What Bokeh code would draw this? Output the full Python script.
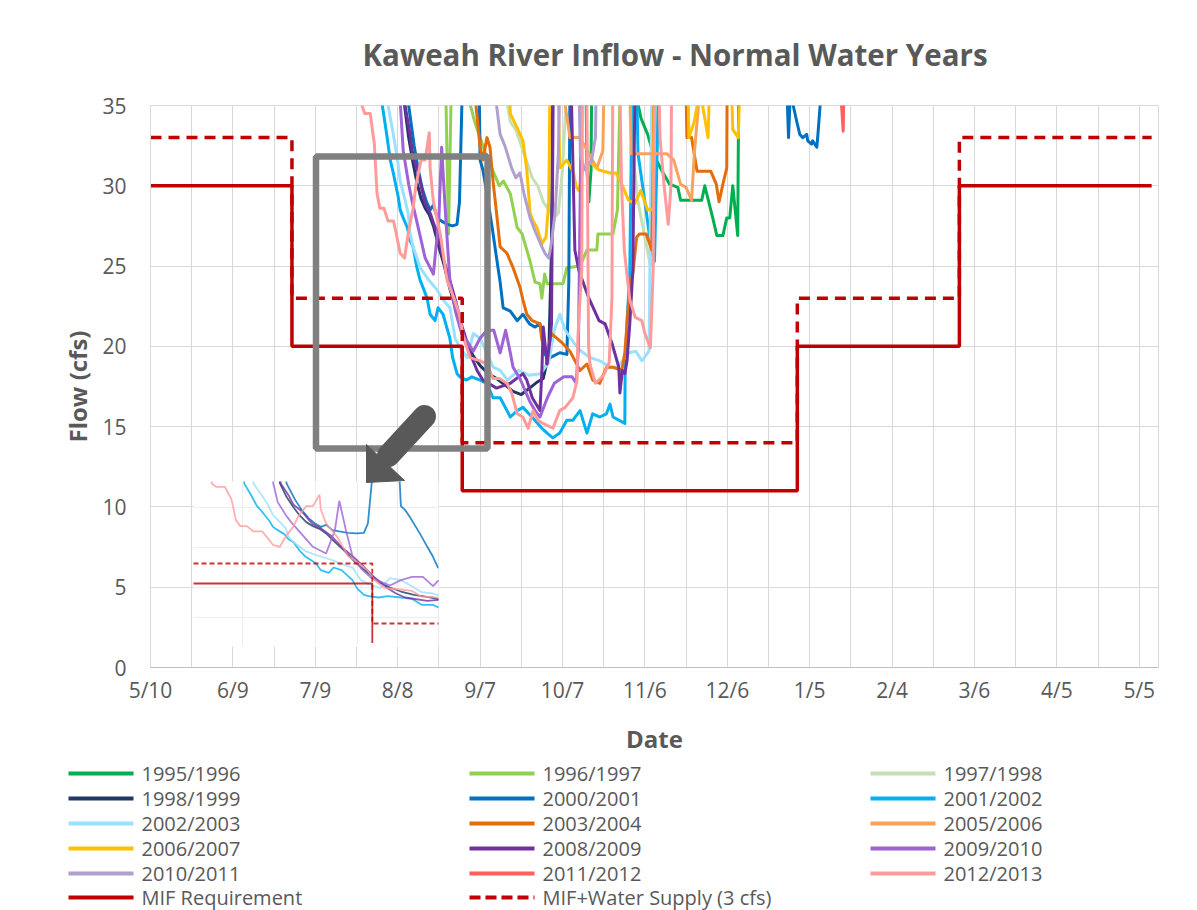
import numpy as np
from bokeh.plotting import figure
from bokeh.models import FixedTicker, Range1d
from bokeh.layouts import column
from bokeh.core.properties import value
from bokeh.embed import file_html
from bokeh.resources import INLINE

# ---------------- data ----------------
tick_days = [0, 30, 60, 90, 120, 150, 180, 210, 240, 270, 300, 330, 360]
tick_labels = ["5/10", "6/9", "7/9", "8/8", "9/7", "10/7", "11/6", "12/6",
               "1/5", "2/4", "3/6", "4/5", "5/5"]
y_ticks = [0, 5, 10, 15, 20, 25, 30, 35]

series_names = ["1995/1996", "1996/1997", "1997/1998", "1998/1999", "2000/2001",
                "2001/2002", "2002/2003", "2003/2004", "2005/2006", "2006/2007",
                "2008/2009", "2009/2010", "2010/2011", "2011/2012", "2012/2013"]
series_colors = ["#00B050", "#92D050", "#C5E0B4", "#203864", "#0070C0",
                 "#00B0F0", "#9BE0FF", "#E46C0A", "#F7A35C", "#FFC000",
                 "#7030A0", "#9E63D4", "#B1A0CF", "#FF5F5F", "#FF9B9B"]
# series that are visible in the enlarged inset picture
inset_names = ["1998/1999", "2000/2001", "2001/2002", "2002/2003", "2008/2009",
               "2009/2010", "2012/2013"]

# days counted from 5/10, flow in cfs (values of 45 are off the top of the chart)
d_1995 = [150, 158, 158.9, 159.6, 160.4, 161, 176, 177.6, 178.6, 181, 183, 186, 189, 192, 193,
          200.7, 201.8, 204.7, 206.2, 208.4, 209.8, 210.9, 212, 213.8, 214.5]
f_1995 = [45, 45, 31, 29, 31, 45, 45, 35, 34.2, 33.2, 32, 31, 30.1, 29.9, 29.1,
          29.1, 30, 28, 26.9, 26.9, 28, 28, 30, 26.9, 45]

d_1996 = [100, 107.5, 108.5, 109.5, 111, 115, 118, 122, 127, 128.5, 131, 133.5, 135.3, 138.2, 140,
          141.8, 142.5, 143.5, 144.4, 146.5, 150.2, 151.6, 156.4, 158.9, 162.5, 162.9, 168.4, 170,
          171, 173]
f_1996 = [45, 36, 27, 36, 45, 36, 34, 32, 30, 30.3, 29.5, 27.4, 27, 25.3, 24,
          23.9, 23, 24.5, 23.9, 23.9, 23.9, 24.9, 25, 26, 26, 27, 27, 28.5,
          36, 45]

d_1997 = [125, 129, 131, 133, 135, 137, 139, 141, 143, 145, 147, 148.5, 150, 151.5, 153,
          172, 175, 177.5, 180, 182, 183.5, 185]
f_1997 = [45, 36, 34, 33.5, 32.5, 31.5, 30.5, 30, 29, 28.5, 28, 28.3, 31, 36, 45,
          45, 33, 29, 26.8, 25, 30, 45]

d_1998 = [91, 92.5, 94, 95.5, 97, 98.5, 100, 101.5, 103, 105, 107, 109, 111, 113, 115,
          117.5, 120, 123, 126, 129, 132, 135, 138, 141, 143, 145, 146, 146.8]
f_1998 = [45, 35, 33, 31.5, 30.2, 29.2, 28.6, 28.2, 27.5, 26.2, 25, 23.6, 22.4, 21.3, 20.2,
          19.4, 18.8, 18.3, 18, 17.6, 17.2, 17, 17.4, 17.8, 18, 19.5, 26, 45]

d_2000 = [93, 94, 96, 97.5, 99, 100.5, 101.8, 103, 104.4, 106, 108, 110, 111.6, 112.5, 113.5,
          114.5, 119, 120, 121, 122, 124.4, 126, 127.3, 128.4, 131, 133.5, 135.6, 138, 140,
          141.8, 143.6, 145.5, 149, 151.6, 152.3, 153, 231, 231.9, 232.3, 233, 234, 235.3,
          236.4, 237.5, 238.9, 239.3, 240.7, 241.1, 242.6, 243, 243.8, 244.3]
f_2000 = [45, 35, 32.5, 31, 29.8, 29, 28.5, 28.8, 28, 27.8, 27.6, 27.5, 27.6, 29, 36,
          45, 45, 31.6, 31, 30, 27.4, 25.5, 24, 22.4, 22.2, 21.6, 22, 21.4, 21.2,
          21.4, 19.5, 19.3, 19.6, 19.5, 24, 45, 45, 35, 33, 36, 35, 34,
          33.2, 33, 33.2, 32.8, 32.6, 32.8, 32.4, 33.2, 35, 45]

d_2001 = [83, 84.4, 86, 87.3, 88.4, 89, 90.2, 90.9, 92, 93.5, 94.5, 95.6, 97, 98.2, 99.6,
          100.7, 101.8, 103.6, 104.7, 106.5, 109, 110, 111.6, 112.7, 115, 117, 120, 122.5,
          124.7, 127.3, 129.8, 131, 133.5, 135.6, 138.9, 142.5, 144.4, 146.5, 149, 151.6,
          153.8, 156.4, 158.9, 161, 163.6, 166, 167.3, 168.4, 172.7, 172.8, 173.5, 174,
          174.5, 176, 177.5, 180, 182, 183.5, 185, 186]
f_2001 = [45, 35, 33.2, 31.6, 30.8, 30.3, 29.3, 28.5, 28, 27.4, 26.6, 26.2, 24.9, 24.1, 23.5,
          23, 22, 21.6, 22.4, 22, 20.5, 19.3, 18.3, 18.1, 17.9, 18.1, 17.9, 17.7,
          16.8, 16.8, 16, 15.6, 16, 16.2, 15.6, 14.9, 14.6, 14.3, 14.6, 15.4,
          15.4, 16, 14.6, 15.8, 15.6, 15.8, 16.4, 15.6, 15.2, 18.5, 21.6, 23,
          24.7, 45, 32, 29, 26.5, 25.3, 36, 45]

d_2002 = [85, 86.5, 88.4, 89.8, 90.9, 92.7, 93.8, 94.5, 95.6, 97, 98.2, 101, 104.4, 106.5, 109,
          110.9, 112.7, 115.3, 117.5, 120, 122.5, 124.7, 127.3, 130, 134, 138, 142, 145, 147,
          149, 151, 153, 156, 160, 163.6, 167.3, 170, 174.2, 176.7, 178.9, 181.5, 182.5, 183.5]
f_2002 = [45, 35, 33.2, 31.8, 30.3, 29.1, 28.3, 27, 26.2, 25.5, 24.9, 24.2, 23.5, 22.9, 22.4,
          20.5, 19.9, 19.3, 20.8, 20.5, 19.6, 18.7, 18.5, 17.9, 18.5, 18.2, 18.3, 19, 21,
          22, 21, 20.5, 19.8, 19.3, 19.1, 18.7, 18.7, 19.6, 19.7, 19.1, 19.7, 36, 45]

d_2003 = [117, 118.5, 120, 121, 122.5, 123.6, 124.7, 126, 127.3, 129.8, 131, 132, 134.5, 135.6,
          137, 139, 141.8, 142.5, 144.4, 146, 148, 150, 152.7, 156.4, 158.9, 161, 163.6, 166,
          168.4, 171.6, 172.7, 174.5, 175.6, 177, 178, 180.5, 182.5, 183, 184, 194, 195.3, 197,
          199, 204, 206, 207, 208.4, 209.8, 210.2]
f_2003 = [45, 35, 32.4, 31.6, 33, 32.4, 30.3, 28.3, 26.2, 25.8, 25.3, 24.9, 23.7, 22.9,
          22, 21.6, 21.4, 20.4, 19.6, 20.8, 20.5, 20.2, 19.7, 18.5, 18.9, 17.9, 17.7, 18.7,
          18.7, 18.5, 19.6, 23.7, 24.5, 26.8, 27, 27, 26, 31, 45, 45, 33, 33,
          30.9, 30.9, 30.1, 29, 30.1, 31.1, 45]

d_2005 = [149, 151, 152.7, 154.5, 156.4, 159, 162.5, 164.7, 166, 174, 175, 178, 182, 188, 190.5,
          193, 195, 197, 198, 200, 202]
f_2005 = [45, 35, 33, 33, 33, 32.2, 31.1, 32.2, 45, 45, 32, 32, 32, 32, 31.6,
          30.1, 29.9, 29.1, 32, 36, 45]

d_2006 = [129, 131, 133.5, 135.6, 137, 138.2, 139.3, 140.7, 142.5, 144, 145, 146, 147.5, 149,
          151.6, 154, 155, 156, 157.5, 160, 163, 167.3, 169.5, 171.6, 174, 176.4, 178.5, 181,
          183, 184, 195, 196, 198, 200, 203, 205, 210, 212, 214, 216]
f_2006 = [45, 34.5, 33.6, 32.8, 31, 28.3, 27.8, 27.4, 26.4, 26.8, 29, 45, 45, 31.1,
          31.6, 30.8, 29.9, 29.7, 31.1, 31.5, 31, 30.8, 30.8, 30.1, 29.1, 28.9, 29.7, 28.5,
          28.5, 45, 45, 33, 34, 36, 33, 45, 45, 33.5, 33, 45]

d_2008 = [91.5, 92.7, 94.5, 95.6, 97.5, 98.9, 100, 101.8, 104.4, 106.5, 109, 111.3, 113.5, 115,
          117, 118.9, 121, 126, 131, 135.6, 137, 139, 141.8, 142.5, 143, 144.4, 145.5, 146, 147,
          152, 154.5, 156, 159.6, 163.3, 165.5, 168, 170.5, 170.9, 171.8, 172.7, 173.5, 174.5,
          175.6, 177]
f_2008 = [45, 35, 33.2, 31.8, 30.8, 29.7, 28.9, 28.3, 27, 25.5, 24.1, 22.7, 21.2, 20.4,
          19.3, 18.5, 17.9, 17.4, 17.7, 18.3, 17.9, 16.8, 16, 18.5, 21.2, 18.9, 20.5, 21.4, 45,
          45, 26, 24.7, 23, 21.6, 21.4, 20.2, 18.7, 17.1, 18.5, 18.3, 19.1, 21.4,
          24.7, 45]

d_2009 = [90, 91, 92, 94, 95.3, 98, 100, 103, 105, 106, 107.5, 109, 111, 113.3, 115, 117.5, 120,
          122.5, 125, 127.3, 129.3, 131, 132, 134.5, 138, 140, 141.8, 144.5, 147, 150.5, 153.5,
          155, 155.8, 156.5, 157.5]
f_2009 = [45, 35, 32.2, 30.1, 29, 27, 25.5, 24.5, 28, 32.4, 28, 24.1, 22.2, 20.8, 20.4, 19.7,
          20.5, 21, 21, 19.6, 21, 19.6, 18.7, 18, 16.6, 16, 15.6, 16.8, 17.7, 18.1, 18.1,
          17.7, 19.9, 30, 45]

d_2010 = [124, 126, 127.3, 129, 131.5, 133, 134.5, 136, 138.2, 140, 141, 142.5, 143.6, 145, 146,
          147.3, 148.5, 150, 155, 156.5, 158, 160.5, 162, 163]
f_2010 = [45, 35, 33.2, 32.5, 31.1, 30.5, 30.8, 29.5, 28, 27.2, 26.8, 26.2, 25.8, 25.5, 26.5,
          28.3, 32, 45, 45, 32, 31, 31.5, 33, 45]

d_2011 = [250.5, 251.6, 252.2, 253.3]
f_2011 = [45, 35, 33.4, 45]

d_2012 = [76, 77, 78, 80, 81.5, 82.5, 83.5, 85, 86.5, 88.5, 89.5, 90.9, 92.5, 93.8, 95.6, 96.7,
          98.5, 100, 101.5, 101.8, 103, 105.5, 108, 110.5, 112.4, 114, 116.4, 120, 122.5, 124.7,
          127, 129.8, 131.5, 133.5, 135.6, 137.5, 139.3, 141.1, 142.9, 146.5, 149, 151, 153.8,
          155.3, 155.6, 156.4, 157, 157.5, 158.5, 159.5, 160, 162, 165, 167, 168, 168.5, 170,
          171.5, 172.5, 174.5, 176.5, 178.9, 180, 182, 183, 184, 185.5, 187, 188.5, 189.5, 190]
f_2012 = [45, 35, 34.5, 34.5, 32.6, 29.5, 28.6, 28.6, 27.8, 27.8, 27, 25.8, 25.5, 27, 28.6, 30.1,
          31.6, 31.6, 33.3, 31.1, 29, 27, 24.1, 23, 22, 20.5, 19.3, 19.1, 18.9, 18,
          18, 17.7, 17.1, 15.8, 15.6, 14.9, 16, 15.4, 15.2, 14.9, 16, 16.2, 16.8,
          17.9, 20.5, 23, 24.7, 45, 45, 20, 18.9, 17.7, 18.2, 19, 23, 45, 45,
          30, 26, 22.9, 21.8, 21.6, 20.8, 19.9, 24.7, 45, 33, 30, 27.6, 30, 45]

series_days = [d_1995, d_1996, d_1997, d_1998, d_2000, d_2001, d_2002, d_2003, d_2005,
               d_2006, d_2008, d_2009, d_2010, d_2011, d_2012]
series_flow = [f_1995, f_1996, f_1997, f_1998, f_2000, f_2001, f_2002, f_2003, f_2005,
               f_2006, f_2008, f_2009, f_2010, f_2011, f_2012]

mif_days = [0, 51.5, 113.5, 235.5, 294.5, 364.5]
mif_flow = [30, 20, 11, 20, 30, 30]
mif_ws_flow = [33, 23, 14, 23, 33, 33]

legend_labels = series_names + ["MIF Requirement", "MIF+Water Supply (3 cfs)"]
legend_colors = series_colors + ["#C00000", "#C00000"]

# ---------------- geometry (page pixels) ----------------
X_MAX = 367.0
Y_MAX = 35.0
FRAME_L, FRAME_T, FRAME_W, FRAME_H = 150, 105, 1008, 562
P1_H = 760
PAGE_W, PAGE_H = 1189, 910
PX_DAY = FRAME_W / X_MAX
PX_CFS = FRAME_H / Y_MAX


def dx(px):
    return (px - FRAME_L) / PX_DAY


def dy(py):
    return (FRAME_T + FRAME_H - py) / PX_CFS


TXT = "#595959"
FONT = "Open Sans"
RED = "#C00000"

p = figure(frame_width=FRAME_W, frame_height=FRAME_H,
           min_border_left=FRAME_L, min_border_top=FRAME_T,
           min_border_right=PAGE_W - FRAME_L - FRAME_W,
           min_border_bottom=P1_H - FRAME_T - FRAME_H,
           x_range=Range1d(0, X_MAX), y_range=Range1d(0, Y_MAX),
           output_backend="svg", toolbar_location=None,
           background_fill_color="white", border_fill_color="white")

p.title.text = "Kaweah River Inflow - Normal Water Years"
p.title.align = "left"
p.title.offset = 212
p.title.text_font = FONT
p.title.text_font_size = "29.5px"
p.title.text_font_style = "bold"
p.title.text_color = TXT
p.title.standoff = 61

p.outline_line_color = "#D9D9D9"
p.xaxis.ticker = FixedTicker(ticks=tick_days)
p.xaxis.major_label_overrides = {d: l for d, l in zip(tick_days, tick_labels)}
p.yaxis.ticker = FixedTicker(ticks=y_ticks)
p.xgrid.ticker = FixedTicker(ticks=list(range(0, 367, 15)))
p.ygrid.ticker = FixedTicker(ticks=y_ticks)
for g in (p.xgrid, p.ygrid):
    g.grid_line_color = "#D9D9D9"
    g.grid_line_width = 1

for ax in (p.xaxis, p.yaxis):
    ax.major_tick_line_color = None
    ax.minor_tick_line_color = None
    ax.major_tick_out = 0
    ax.major_label_text_font = FONT
    ax.major_label_text_font_size = "21px"
    ax.major_label_text_color = TXT
    ax.axis_label_text_font = FONT
    ax.axis_label_text_font_size = "24px"
    ax.axis_label_text_font_style = "bold"
    ax.axis_label_text_color = TXT
p.xaxis.axis_line_color = "#BFBFBF"
p.yaxis.axis_line_color = "#D9D9D9"
p.xaxis.axis_label = "Date"
p.yaxis.axis_label = "Flow (cfs)"
p.xaxis.major_label_standoff = 8
p.yaxis.major_label_standoff = 24
p.xaxis.axis_label_standoff = 15
p.yaxis.axis_label_standoff = 5

# ---------------- series ----------------
for name, col, d, f in zip(series_names, series_colors, series_days, series_flow):
    p.line(d, f, line_color=col, line_width=3, line_join="round")

p.step(mif_days, mif_flow, mode="after", line_color=RED, line_width=3.5)
p.step(mif_days, mif_ws_flow, mode="after", line_color=RED, line_width=3.5, line_dash="11 7")

# ---------------- highlight box ----------------
p.quad(left=dx(315.5), right=dx(487), top=dy(156), bottom=dy(448),
       fill_alpha=0, line_color="#808080", line_width=6.5)

# ---------------- inset (enlarged view) ----------------
IN_L, IN_R, IN_T, IN_B = 193, 438, 481, 644
IN_ANCHOR_PX = (374.0, 583.0)
IN_ANCHOR = (114.0, 20.0)
IN_SX, IN_SY = 4.4, 6.67
src_xmin = IN_ANCHOR[0] + (IN_L - IN_ANCHOR_PX[0]) / IN_SX
src_xmax = IN_ANCHOR[0] + (IN_R - IN_ANCHOR_PX[0]) / IN_SX
src_ymin = IN_ANCHOR[1] - (IN_B - 1.5 - IN_ANCHOR_PX[1]) / IN_SY
src_ymax = IN_ANCHOR[1] - (IN_T - IN_ANCHOR_PX[1]) / IN_SY


def clip_segment(x0, y0, x1, y1, xmin, xmax, ymin, ymax):
    ddx, ddy = x1 - x0, y1 - y0
    t0, t1 = 0.0, 1.0
    for pp, qq in ((-ddx, x0 - xmin), (ddx, xmax - x0), (-ddy, y0 - ymin), (ddy, ymax - y0)):
        if pp == 0:
            if qq < 0:
                return None
        else:
            r = qq / pp
            if pp < 0:
                if r > t1:
                    return None
                t0 = max(t0, r)
            else:
                if r < t0:
                    return None
                t1 = min(t1, r)
    return (x0 + t0 * ddx, y0 + t0 * ddy, x0 + t1 * ddx, y0 + t1 * ddy)


def clip_polyline(xs, ys):
    ox, oy, last = [], [], None
    for i in range(len(xs) - 1):
        s = clip_segment(xs[i], ys[i], xs[i + 1], ys[i + 1], src_xmin, src_xmax, src_ymin, src_ymax)
        if s is None:
            last = None
            continue
        if last is None or abs(last[0] - s[0]) > 1e-9 or abs(last[1] - s[1]) > 1e-9:
            if ox:
                ox.append(np.nan)
                oy.append(np.nan)
            ox.append(s[0])
            oy.append(s[1])
        ox.append(s[2])
        oy.append(s[3])
        last = (s[2], s[3])
    return ox, oy


def to_inset(xs, ys):
    cx, cy = clip_polyline(xs, ys)
    px = [IN_ANCHOR_PX[0] + (x - IN_ANCHOR[0]) * IN_SX for x in cx]
    py = [IN_ANCHOR_PX[1] - (y - IN_ANCHOR[1]) * IN_SY for y in cy]
    return [dx(v) for v in px], [dy(v) for v in py]


def step_xy(days, flows):
    xs, ys = [], []
    for i in range(len(days) - 1):
        xs += [days[i], days[i + 1]]
        ys += [flows[i], flows[i]]
    return xs, ys


p.quad(left=dx(IN_L), right=dx(IN_R), top=dy(IN_T), bottom=dy(IN_B + 2),
       fill_color="white", line_color=None)
for gpx in (242, 315, 357, 397):
    p.line([dx(gpx), dx(gpx)], [dy(IN_T), dy(IN_B)], line_color="#EEEEEE", line_width=1)
for gpy in (507, 547, 587, 617):
    p.line([dx(IN_L), dx(IN_R)], [dy(gpy), dy(gpy)], line_color="#EEEEEE", line_width=1)

for name, col, d, f in zip(series_names, series_colors, series_days, series_flow):
    if name not in inset_names:
        continue
    ix, iy = to_inset(d, f)
    if ix:
        p.line(ix, iy, line_color=col, line_width=1.8, line_alpha=0.8)
sx_, sy_ = step_xy(mif_days, mif_flow)
ix, iy = to_inset(sx_, sy_)
p.line(ix, iy, line_color=RED, line_width=1.8, line_alpha=0.8)
sx_, sy_ = step_xy(mif_days, mif_ws_flow)
ix, iy = to_inset(sx_, sy_)
p.line(ix, iy, line_color=RED, line_width=1.8, line_alpha=0.8, line_dash="5 3")

# arrow
p.line([dx(424), dx(388)], [dy(416), dy(455)], line_color="#595959", line_width=23,
       line_cap="round")
p.patch([dx(366), dx(366), dx(404)], [dy(482), dy(444), dy(480)],
        fill_color="#595959", line_color="#595959", line_width=1, line_join="round")

# ---------------- legend (second panel, page-pixel coordinates) ----------------
leg = figure(frame_width=PAGE_W, frame_height=PAGE_H - P1_H,
             min_border_left=0, min_border_right=0, min_border_top=0, min_border_bottom=0,
             x_range=Range1d(0, PAGE_W), y_range=Range1d(PAGE_H, P1_H),
             output_backend="svg", toolbar_location=None,
             background_fill_color="white", border_fill_color="white")
leg.frame_align = False
leg.axis.visible = False
leg.grid.visible = False
leg.outline_line_color = None

COL_X0, COL_PITCH, GLYPH_W, TEXT_GAP = 68, 401, 65, 8
ROW_Y = [773, 798, 823, 848, 873, 897]
for i, (lab, col) in enumerate(zip(legend_labels, legend_colors)):
    c, r = i % 3, i // 3
    x0 = COL_X0 + c * COL_PITCH
    yy = ROW_Y[r]
    dash = "11 5" if lab.startswith("MIF+") else "solid"
    leg.segment(x0=[x0], y0=[yy], x1=[x0 + GLYPH_W], y1=[yy], line_color=col,
                line_width=4, line_dash=dash)
    leg.text(x=[x0 + GLYPH_W + TEXT_GAP], y=[yy], text=[lab], text_font=value(FONT),
             text_font_size="20px", text_color=TXT, text_baseline="middle",
             text_align="left")

layout = column(p, leg, spacing=0)
open("out.html", "w").write(file_html(layout, INLINE))
